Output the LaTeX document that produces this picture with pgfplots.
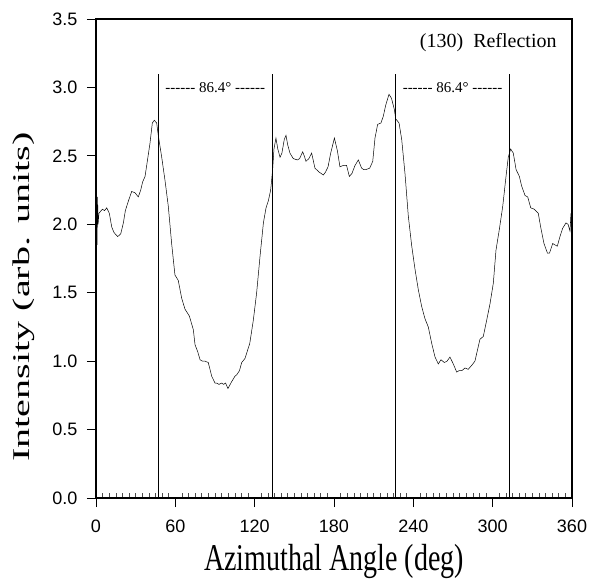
\documentclass[border=0pt]{standalone}
\usepackage{pgfplots}
\pgfplotsset{compat=1.18}
\usepackage{fontspec}
\setmainfont{Liberation Serif}
\setsansfont{Liberation Sans}
\usepackage{graphicx}

\begin{document}
\begin{tikzpicture}
\begin{axis}[
  width=476pt, height=479pt, scale only axis,
  xmin=0, xmax=360, ymin=0, ymax=3.5,
  xtick={0,60,120,180,240,300,360},
  ytick={0,0.5,1,1.5,2,2.5,3,3.5},
  minor x tick num=11,
  xtick pos=bottom, ytick pos=left,
  tick align=outside,
  major tick length=9pt, minor tick length=5pt,
  every tick/.style={black, line width=0.9pt},
  minor x tick style={yshift=5pt, line width=0.6pt, black!70},
  axis line style={line width=1.2pt},
  tick label style={font=\fontsize{18}{18}\selectfont\sffamily},
  /pgf/number format/assume math mode=true,
  yticklabel style={/pgf/number format/.cd, fixed, fixed zerofill, precision=1, /tikz/.cd, xshift=-6pt},
  xticklabel style={yshift=-9pt},
  xlabel={\scalebox{1}[1.35]{Azimuthal Angle (deg)}},
  xlabel style={font=\fontsize{28}{28}\selectfont, at={(axis description cs:0.5,-0.1326)}, anchor=center},
  ylabel={\scalebox{1.67}[1]{Intensity (arb. units)}},
  ylabel style={font=\fontsize{24}{24}\selectfont, at={(axis description cs:-0.152,0.42)}, anchor=center},
  clip=false,
]
\addplot[black, line width=0.5pt] coordinates {
(0,1.76) (0.4,2.18) (0.8,1.85) (1.2,2.20) (1.6,2.00) (2.2,2.08) (3.0,2.09) (4.9,2.11) (6.5,2.10) (8.1,2.12)
(10.1,2.08) (11.9,1.98) (13.6,1.94) (16.4,1.91) (18.7,1.93) (20.7,2.01) (22.2,2.10) (24.5,2.17) (27.0,2.24)
(29.5,2.23) (32.0,2.20) (33.8,2.25) (35.3,2.31) (37.1,2.35) (38.8,2.46) (40.8,2.59) (42.6,2.74) (44.1,2.76)
(45.9,2.74) (47.1,2.65) (49.7,2.49) (52.2,2.32) (54.7,2.13) (57.2,1.86) (59.7,1.63) (62.2,1.59) (64.8,1.46)
(67.3,1.38) (70.6,1.33) (73.6,1.23) (74.9,1.12) (76.9,1.07) (78.7,1.01) (80.5,1.00) (82.4,1.00) (84.9,0.99)
(87.5,0.89) (90.0,0.84) (91.3,0.84) (93.0,0.83) (95.1,0.84) (96.5,0.83) (98.0,0.84) (99.8,0.80) (102.6,0.85)
(105.1,0.89) (106.4,0.90) (108.5,0.93) (110.2,0.99) (112.7,1.02) (114.0,1.06) (116.3,1.13) (119.0,1.30)
(121.5,1.50) (124.0,1.76) (126.6,2.01) (128.6,2.12) (130.3,2.17) (132.1,2.25) (133.6,2.40) (134.6,2.55)
(136.1,2.63) (137.5,2.55) (139.2,2.49) (140.6,2.52) (142.4,2.62) (143.7,2.65) (145.0,2.58) (146.7,2.52)
(149.2,2.48) (152.3,2.47) (154.0,2.48) (156.3,2.53) (157.5,2.50) (158.8,2.46) (161.0,2.48) (163.1,2.52)
(165.6,2.41) (168.9,2.38) (170.5,2.37) (171.9,2.36) (173.5,2.38) (175.5,2.42) (177.5,2.52) (180.3,2.63)
(182.5,2.54) (184.5,2.42) (187.0,2.43) (189.5,2.43) (191.6,2.35) (193.5,2.37) (195.9,2.43) (198.4,2.47)
(200.9,2.41) (202.5,2.40) (204.2,2.40) (207.0,2.41) (209.3,2.46) (211.0,2.63) (213.0,2.73) (215.5,2.74)
(217.3,2.79) (219.1,2.87) (221.6,2.95) (223.5,2.92) (225.6,2.84) (226.7,2.77) (229.2,2.74) (231.2,2.62)
(233.7,2.37) (236.2,2.06) (238.8,1.84) (241.3,1.67) (243.8,1.52) (246.3,1.40) (248.8,1.31) (251.3,1.25)
(253.9,1.13) (256.4,1.03) (258.9,0.98) (260.9,1.01) (263.5,0.99) (265.5,1.00) (267.7,1.03) (270.2,0.98)
(272.8,0.92) (274.5,0.93) (276.6,0.93) (279.1,0.95) (281.5,0.94) (284.2,0.97) (286.6,1.00) (288.0,1.06)
(290.4,1.16) (292.9,1.18) (295.5,1.30) (298.0,1.42) (300.5,1.57) (302.5,1.81) (305.0,1.96) (307.6,2.13)
(310.1,2.35) (311.8,2.49) (313.6,2.55) (315.6,2.52) (317.7,2.40) (320.2,2.35) (321.9,2.28) (324.5,2.21)
(326.5,2.20) (328.8,2.12) (331.5,2.11) (334.5,2.08) (336.3,1.98) (338.8,1.86) (341.4,1.79) (343.0,1.79)
(345.4,1.86) (347.0,1.85) (348.9,1.84) (350.9,1.91) (352.9,1.97) (355.4,2.01) (357.0,2.00) (358.5,1.95)
(359.2,2.08) (359.6,1.96) (360.0,2.07)
};
\addplot[black, line width=0.6pt] coordinates {(47.0,0) (47.0,3.1)};
\addplot[black, line width=0.6pt] coordinates {(133.4,0) (133.4,3.1)};
\addplot[black, line width=0.6pt] coordinates {(226.5,0) (226.5,3.1)};
\addplot[black, line width=0.6pt] coordinates {(312.9,0) (312.9,3.1)};
\node[font=\fontsize{15}{15}\selectfont] at (axis cs:90.2,3.0) {{-}{-}{-}{-}{-}{-} 86.4° {-}{-}{-}{-}{-}{-}};
\node[font=\fontsize{15}{15}\selectfont] at (axis cs:269.7,3.0) {{-}{-}{-}{-}{-}{-} 86.4° {-}{-}{-}{-}{-}{-}};
\node[font=\fontsize{20}{20}\selectfont, anchor=east] at (axis cs:351,3.33) {(130)\ \ Reflection};
\coordinate (bl) at (rel axis cs:0,0);
\coordinate (tr) at (rel axis cs:1,1);
\end{axis}
\pgfresetboundingbox
\path ([shift={(-96pt,-83pt)}]bl) rectangle ([shift={(20pt,19pt)}]tr);
\end{tikzpicture}
\end{document}
